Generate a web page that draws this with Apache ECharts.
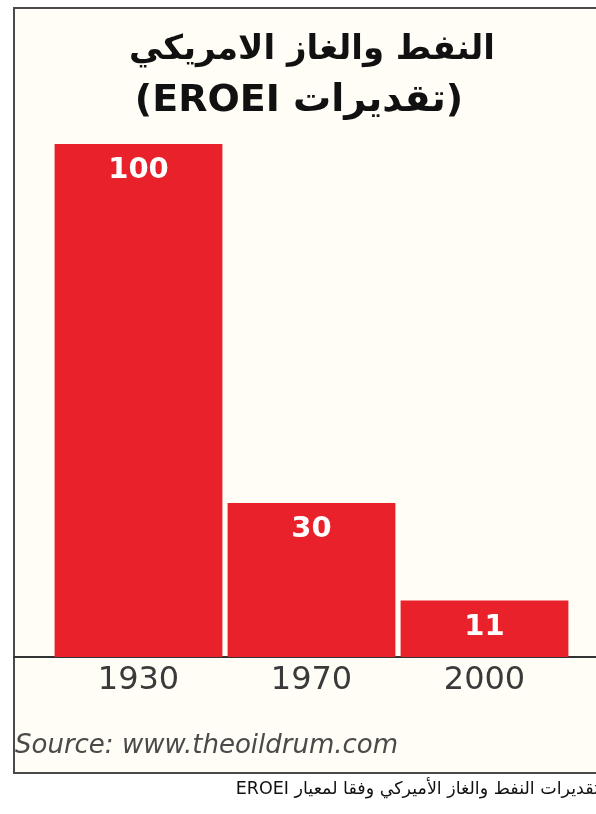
<!DOCTYPE html>
<html>
<head>
<meta charset="utf-8">
<script src="https://cdn.jsdelivr.net/npm/echarts@6/dist/echarts.min.js"></script>
<style>
html,body{margin:0;padding:0;background:#ffffff;}
#c{width:596px;height:814px;}
</style>
</head>
<body>
<div id="c"></div>
<script>
const categories = ['1930', '1970', '2000'];
const eroeiValues = [100, 30, 11];
const titleLine1 = 'النفط والغاز الامريكي';
const titleLine2 = '(تقديرات EROEI)';
const sourceText = 'Source: www.theoildrum.com';
const captionText = 'تقديرات النفط والغاز الأميركي وفقا لمعيار EROEI';

const RLE = '\u202B', PDF = '\u202C';
const chart = echarts.init(document.getElementById('c'), null, {renderer: 'canvas'});
chart.setOption({
  backgroundColor: '#ffffff',
  animation: false,
  graphic: [
    {type: 'rect', z: -10, shape: {x: 14, y: 8, width: 600, height: 765},
     style: {fill: '#fffdf6', stroke: '#4a4a4a', lineWidth: 2}},
    {type: 'text', z: 10, x: 312, y: 50,
     style: {text: RLE + titleLine1 + PDF, fill: '#111', font: 'bold 34px "DejaVu Sans"', textAlign: 'center', textVerticalAlign: 'middle'}},
    {type: 'text', z: 10, x: 299, y: 101,
     style: {text: RLE + titleLine2 + PDF, fill: '#111', font: 'bold 38px "DejaVu Sans"', textAlign: 'center', textVerticalAlign: 'middle'}},
    {type: 'text', z: 10, x: 15, y: 746,
     style: {text: sourceText, fill: '#4a4a4a', font: 'italic 26px "DejaVu Sans"', textAlign: 'left', textVerticalAlign: 'middle'}},
    {type: 'text', z: 10, x: 599, y: 789,
     style: {text: RLE + captionText + PDF, fill: '#111', font: '17.5px "DejaVu Sans"', textAlign: 'right', textVerticalAlign: 'middle'}}
  ],
  grid: [
    {left: 52, right: 25, top: 144, bottom: 157},
    {left: 14, right: 0, top: 144, bottom: 157}
  ],
  xAxis: [
    {type: 'category', data: categories, gridIndex: 0,
     axisLine: {show: false}, axisTick: {show: false},
     axisLabel: {color: '#3a3a3a', fontSize: 32, fontFamily: 'DejaVu Sans', margin: 8}},
    {type: 'value', gridIndex: 1, min: 0, max: 1,
     axisLine: {show: true, lineStyle: {color: '#333', width: 2}},
     axisTick: {show: false}, axisLabel: {show: false}, splitLine: {show: false}}
  ],
  yAxis: [
    {type: 'value', gridIndex: 0, min: 0, max: 100, show: false, splitLine: {show: false}},
    {type: 'value', gridIndex: 1, min: 0, max: 100, show: false, splitLine: {show: false}}
  ],
  series: [{
    type: 'bar', data: eroeiValues, xAxisIndex: 0, yAxisIndex: 0,
    barCategoryGap: '3%',
    itemStyle: {color: '#e8212a'},
    label: {show: true, position: 'insideTop', distance: 12, color: '#ffffff',
            fontSize: 29, fontWeight: 'bold', fontFamily: 'DejaVu Sans'}
  }]
});
</script>
</body>
</html>
